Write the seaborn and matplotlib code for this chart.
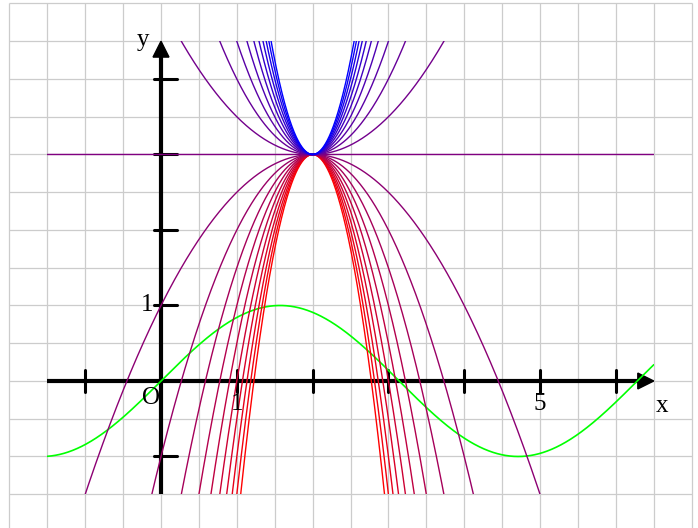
import numpy as np
import pandas as pd
import matplotlib
matplotlib.use("Agg")
import matplotlib.pyplot as plt
from matplotlib.patches import Rectangle, Polygon
import seaborn as sns

# ---- data: parameters of the family y = 3 + a (x - 2)^2 ----
A_NEG = [-5.0, -4.5, -4.0, -3.5, -3.0, -2.5, -2.0, -1.5, -1.0, -0.5]
A_ZERO = [0.0]
A_POS = [0.5, 1.0, 1.5, 2.0, 2.5, 3.0, 3.5, 4.0, 4.5, 5.0]
VERTEX = (2.0, 3.0)
X_RANGE = (-1.5, 6.5)
Y_CLIP = (-1.5, 4.5)
X_TICKS = [-1, 1, 2, 3, 4, 5, 6]
Y_TICKS = [-1, 1, 2, 3, 4]
X_TICK_LABELS = {1: "1", 5: "5"}
Y_TICK_LABELS = {1: "1"}

sns.set_theme(style="white")
plt.rcParams["font.family"] = ["Liberation Serif", "DejaVu Serif"]
plt.rcParams["text.color"] = "black"

fig = plt.figure(figsize=(6.98, 5.28), dpi=100)
ax = fig.add_axes([0, 0, 1, 1])
ax.set_xlim(-2.124, 7.084)
ax.set_ylim(-1.947, 5.046)
ax.axis("off")

# grid (every 0.5 unit, from -2..7 and -2..5)
gx = np.arange(-2.0, 7.01, 0.5)
gy = np.arange(-2.0, 5.01, 0.5)
ax.vlines(gx, -2.0, 5.0, color="#cccccc", lw=0.9, zorder=0)
ax.hlines(gy, -2.0, 7.0, color="#cccccc", lw=0.9, zorder=0)

# axes with arrows
axis_lw = 3.0
ax.plot([X_RANGE[0], 6.35], [0, 0], color="black", lw=axis_lw, solid_capstyle="butt", zorder=2)
ax.plot([0, 0], [Y_CLIP[0], 4.35], color="black", lw=axis_lw, solid_capstyle="butt", zorder=2)
ax.add_patch(Polygon([[6.5, 0], [6.29, 0.105], [6.29, -0.105]], closed=True, color="black", zorder=2))
ax.add_patch(Polygon([[0, 4.5], [-0.105, 4.29], [0.105, 4.29]], closed=True, color="black", zorder=2))
for t in X_TICKS:
    ax.plot([t, t], [-0.14, 0.15], color="black", lw=2.2, zorder=2)
for t in Y_TICKS:
    ax.plot([-0.09, 0.21], [t, t], color="black", lw=2.2, zorder=2)

# curves
xs = np.linspace(X_RANGE[0], X_RANGE[1], 1601)

def color_for(a):
    if a < 0:
        t = -a / max(abs(v) for v in A_NEG)
        return (0.5 + 0.5 * t, 0.0, 0.5 - 0.5 * t)
    t = a / max(A_POS)
    return (0.5 - 0.5 * t, 0.0, 0.5 + 0.5 * t)

params = A_NEG + A_ZERO + A_POS
frames = []
for a in params:
    frames.append(pd.DataFrame({"x": xs, "y": VERTEX[1] + a * (xs - VERTEX[0]) ** 2, "a": a}))
df = pd.concat(frames, ignore_index=True)
palette = {a: color_for(a) for a in params}

sine = pd.DataFrame({"x": xs, "y": np.sin(xs)})
n_before = len(ax.lines)
sns.lineplot(data=sine, x="x", y="y", color="#00ff00", lw=1.2, ax=ax, estimator=None, sort=False, zorder=3)
sns.lineplot(data=df, x="x", y="y", hue="a", palette=palette, lw=1.0, ax=ax,
             estimator=None, sort=False, legend=False, zorder=4)

clip = Rectangle((X_RANGE[0], Y_CLIP[0]), X_RANGE[1] - X_RANGE[0], Y_CLIP[1] - Y_CLIP[0],
                 transform=ax.transData, fill=False, visible=False)
ax.add_patch(clip)
for ln in ax.lines[n_before:]:
    ln.set_clip_path(clip)

# labels
fs = 18
ax.text(-0.24, 4.52, "y", fontsize=fs, ha="center", va="center", color="black", zorder=5)
ax.text(6.61, -0.33, "x", fontsize=fs, ha="center", va="center", color="black", zorder=5)
ax.text(-0.13, -0.225, "O", fontsize=fs, ha="center", va="center", color="black", zorder=5)
for t, s in X_TICK_LABELS.items():
    ax.text(t, -0.3, s, fontsize=fs, ha="center", va="center", color="black", zorder=5)
for t, s in Y_TICK_LABELS.items():
    ax.text(-0.185, t + 0.01, s, fontsize=fs, ha="center", va="center", color="black", zorder=5)

fig.savefig("out.png", dpi=100)
